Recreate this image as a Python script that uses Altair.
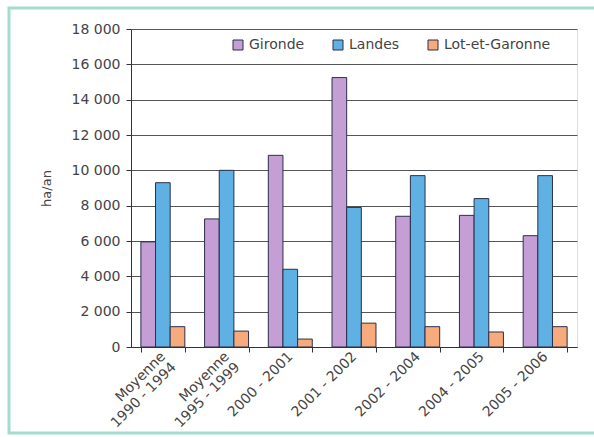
import altair as alt
import pandas as pd

# Surfaces (ha/an) by period and département
periods = [
    "Moyenne\n1990 - 1994",
    "Moyenne\n1995 - 1999",
    "2000 - 2001",
    "2001 - 2002",
    "2002 - 2004",
    "2004 - 2005",
    "2005 - 2006",
]
series = ["Gironde", "Landes", "Lot-et-Garonne"]
gironde = [5950, 7250, 10850, 15250, 7400, 7450, 6300]
landes = [9300, 10000, 4400, 7900, 9700, 8400, 9700]
lot_et_garonne = [1150, 900, 450, 1350, 1150, 850, 1150]
colors = ["#c49ed5", "#5fb1e3", "#f7ab7c"]
y_ticks = [0, 2000, 4000, 6000, 8000, 10000, 12000, 14000, 16000, 18000]

rows = []
for name, vals in zip(series, [gironde, landes, lot_et_garonne]):
    for p, v in zip(periods, vals):
        rows.append({"periode": p, "departement": name, "valeur": v})
df = pd.DataFrame(rows)

FONT = "DejaVu Sans"
TEXT = "#444444"

bars = alt.Chart(df).mark_bar(stroke="#2b2f4a", strokeWidth=1).encode(
    x=alt.X(
        "periode:N",
        sort=periods,
        scale=alt.Scale(paddingInner=0.31, paddingOuter=0.155),
        axis=alt.Axis(
            title=None,
            labelAngle=-45,
            labelAlign="right",
            labelBaseline="middle",
            labelExpr="split(datum.label, '\\n')",
            labelFont=FONT,
            labelFontSize=14,
            labelColor=TEXT,
            labelPadding=2,
            labelLineHeight=15,
            tickBand="extent",
            tickSize=5,
            tickColor="#333333",
            domainColor="#333333",
            grid=False,
        ),
    ),
    xOffset=alt.XOffset("departement:N", sort=series),
    y=alt.Y(
        "valeur:Q",
        scale=alt.Scale(domain=[0, 18000], nice=False),
        axis=alt.Axis(
            title="ha/an",
            titleFont=FONT,
            titleFontSize=13,
            titleFontWeight="normal",
            titleColor=TEXT,
            titlePadding=18,
            values=y_ticks,
            labelExpr="replace(format(datum.value, ','), ',', ' ')",
            labelFont=FONT,
            labelFontSize=14,
            labelColor=TEXT,
            labelPadding=6,
            tickSize=5,
            tickColor="#333333",
            domainColor="#333333",
            gridColor="#555555",
            gridWidth=1,
        ),
    ),
    color=alt.Color(
        "departement:N",
        sort=series,
        scale=alt.Scale(domain=series, range=colors),
        legend=alt.Legend(
            title=None,
            orient="none",
            direction="horizontal",
            legendX=100,
            legendY=9,
            symbolType="square",
            symbolSize=100,
            symbolStrokeColor="#2b2f4a",
            symbolStrokeWidth=1,
            symbolOpacity=1,
            labelFont=FONT,
            labelFontSize=14,
            labelColor=TEXT,
            labelOffset=4,
            columnPadding=26,
        ),
    ),
)

# Light teal frame around the whole figure
frame = alt.Chart(pd.DataFrame({"k": [0]})).mark_rect(
    fill=None, stroke="#a5dccd", strokeWidth=3
).encode(
    x=alt.value(-122), x2=alt.value(470), y=alt.value(-21), y2=alt.value(404)
)

chart = alt.layer(bars, frame).properties(
    width=446,
    height=318,
    autosize=alt.AutoSizeParams(type="none"),
    padding={"left": 131, "top": 29, "right": 17, "bottom": 90},
).configure_view(stroke=None).configure(background="white")

chart.save("out.html", embed_options={"renderer": "svg", "actions": False})
